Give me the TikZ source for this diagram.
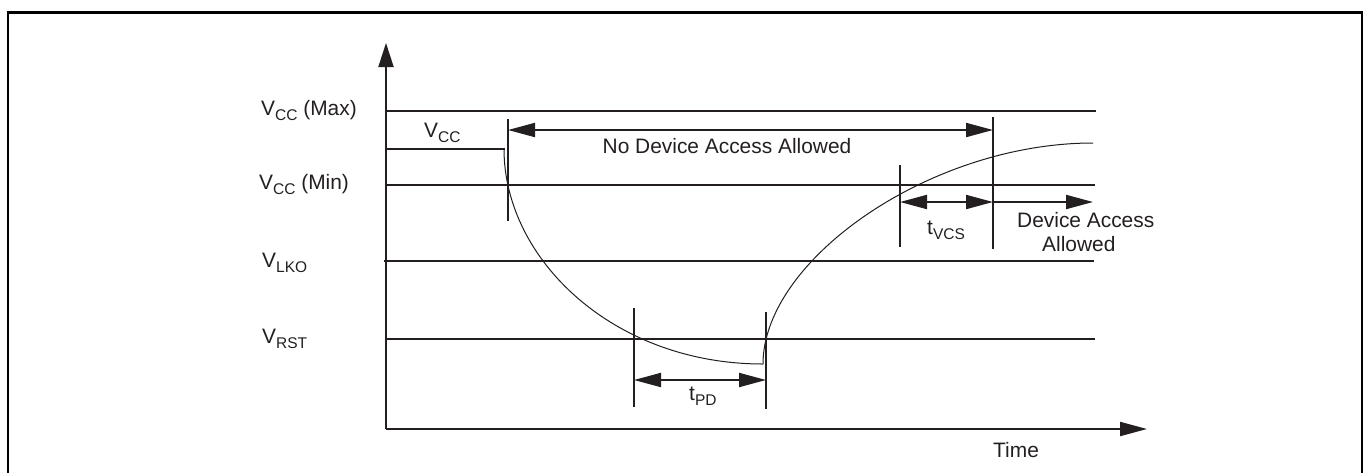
\documentclass[tikz,border=0pt]{standalone}
\usepackage{fontspec}
\setmainfont{Liberation Sans}
\usetikzlibrary{arrows.meta}
\definecolor{ink}{HTML}{231F20}
\newcommand{\sbs}[1]{\raisebox{-5pt}{\fontsize{15.5}{15.5}\selectfont #1}}
\begin{document}
\begin{tikzpicture}[x=1pt,y=-1pt,
  lbl/.style={inner sep=0pt, text=ink, font=\fontsize{20.9}{24}\selectfont},
  thick line/.style={ink, line width=2pt},
  curve/.style={ink, line width=1pt},
  dimarrow/.style={ink, line width=2pt, >={Triangle[length=27pt,width=14pt]}},
  axisarrow/.style={ink, line width=2pt},
  frame/.style={black, line width=2.2pt}]
\useasboundingbox (0,0) rectangle (1368,472);
% frame
\draw[frame] (8,495) -- (8,12.5) -- (1362,12.5) -- (1362,495);
% axes
\coordinate (O) at (386,429);
\coordinate (ytip) at (386,43);
\coordinate (xtip) at (1147,429);
\draw[axisarrow, -{Triangle[length=24pt,width=15pt]}] (O) -- (ytip);
\draw[axisarrow, -{Triangle[length=27pt,width=14pt]}] (O) -- (xtip);
% levels
\coordinate (maxL) at (386,111); \coordinate (maxR) at (1096,111);
\coordinate (vccL) at (386,149); \coordinate (vccR) at (505,149);
\coordinate (minL) at (386,185); \coordinate (minR) at (1095,185);
\coordinate (lkoL) at (384,261); \coordinate (lkoR) at (1094,261);
\coordinate (rstL) at (386,339); \coordinate (rstR) at (1095,339);
\draw[thick line] (maxL) -- (maxR);
\draw[thick line] (vccL) -- (vccR);
\draw[thick line] (minL) -- (minR);
\draw[thick line] (lkoL) -- (lkoR);
\draw[thick line] (rstL) -- (rstR);
% curve
\coordinate (cstart) at (504,149);
\coordinate (cbot) at (763,364);
\coordinate (cend) at (1093,143);
\draw[curve] (cstart) .. controls (504,259) and (613,364) .. (cbot);
\draw[curve] (cbot) .. controls (763,260) and (930,143) .. (cend);
% ticks
\coordinate (t1a) at (508,119); \coordinate (t1b) at (508,221);
\coordinate (t2a) at (634,308); \coordinate (t2b) at (634,407);
\coordinate (t3a) at (766,312); \coordinate (t3b) at (766,409);
\coordinate (t4a) at (900,165); \coordinate (t4b) at (900,247);
\coordinate (t5a) at (993,117); \coordinate (t5b) at (993,249);
\draw[thick line] (t1a) -- (t1b);
\draw[thick line] (t2a) -- (t2b);
\draw[thick line] (t3a) -- (t3b);
\draw[thick line] (t4a) -- (t4b);
\draw[thick line] (t5a) -- (t5b);
% dimension arrows
\coordinate (na1) at (508,130); \coordinate (na2) at (993,130);
\coordinate (vc1) at (900,202); \coordinate (vc2) at (993,202);
\coordinate (da2) at (1093,202);
\coordinate (pd1) at (634,380); \coordinate (pd2) at (766,380);
\draw[dimarrow,<->] (na1) -- (na2);
\draw[dimarrow,<->] (vc1) -- (vc2);
\draw[dimarrow,->] (vc2) -- (da2);
\draw[dimarrow,<->] (pd1) -- (pd2);
% labels
\node[lbl, anchor=base west] (lmax) at (261,115) {V\sbs{CC} (Max)};
\node[lbl, anchor=base west] (lmin) at (259,189) {V\sbs{CC} (Min)};
\node[lbl, anchor=base west] (llko) at (262,267) {V\sbs{LKO}};
\node[lbl, anchor=base west] (lrst) at (262,343) {V\sbs{RST}};
\node[lbl, anchor=base west] (lvcc) at (424,137) {V\sbs{CC}};
\node[lbl, anchor=base] (lnoacc) at (727,153) {No Device Access Allowed};
\node[lbl, anchor=base west] (ltvcs) at (927,234) {t\sbs{VCS}};
\node[lbl, anchor=base west] (ldev1) at (1017,227) {Device Access};
\node[lbl, anchor=base west] (ldev2) at (1042,251) {Allowed};
\node[lbl, anchor=base west] (ltpd) at (689,400) {t\sbs{PD}};
\node[lbl, anchor=base west] (ltime) at (993,457) {Time};
\end{tikzpicture}
\end{document}
